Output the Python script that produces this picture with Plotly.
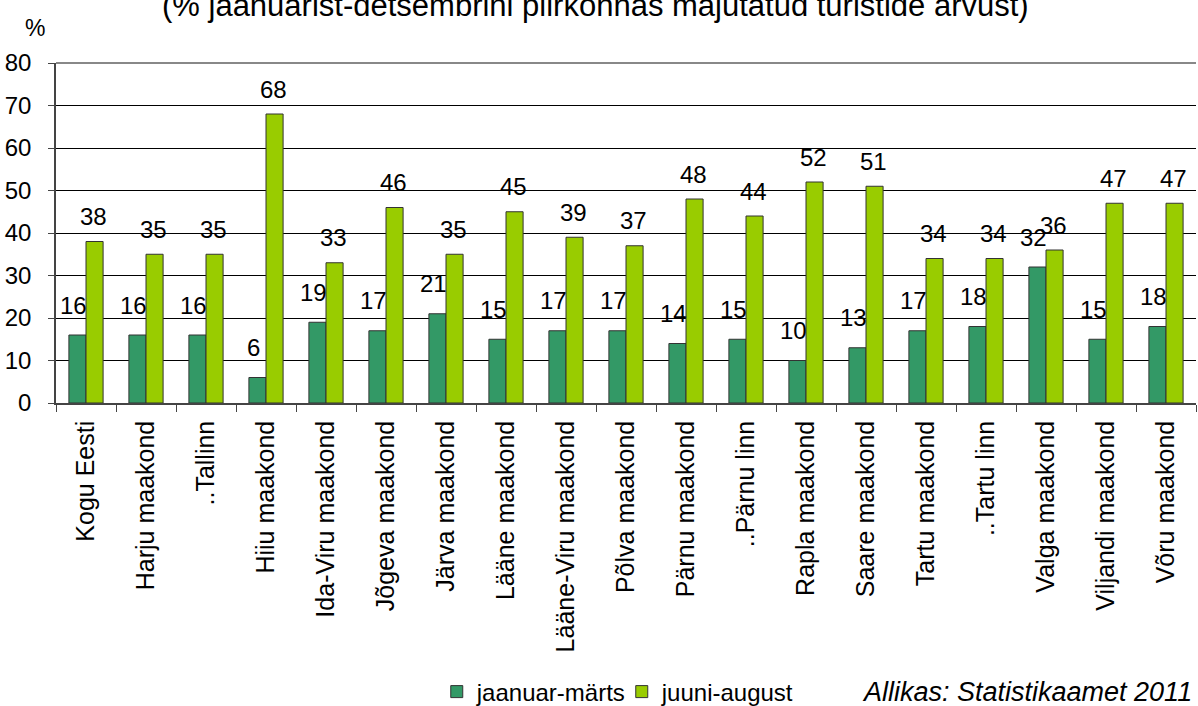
import plotly.graph_objects as go

categories = ["Kogu Eesti", "Harju maakond", "..Tallinn", "Hiiu maakond", "Ida-Viru maakond",
              "Jõgeva maakond", "Järva maakond", "Lääne maakond", "Lääne-Viru maakond",
              "Põlva maakond", "Pärnu maakond", "..Pärnu linn", "Rapla maakond", "Saare maakond",
              "Tartu maakond", "..Tartu linn", "Valga maakond", "Viljandi maakond", "Võru maakond"]
jaanuar_marts = [16, 16, 16, 6, 19, 17, 21, 15, 17, 17, 14, 15, 10, 13, 17, 18, 32, 15, 18]
juuni_august = [38, 35, 35, 68, 33, 46, 35, 45, 39, 37, 48, 44, 52, 51, 34, 34, 36, 47, 47]
series_names = ["jaanuar-märts", "juuni-august"]
y_ticks = [0, 10, 20, 30, 40, 50, 60, 70, 80]

FONT = "Liberation Sans, Arial, sans-serif"
DARK = "#339966"
LIGHT = "#99CC00"

fig = go.Figure()
fig.add_trace(go.Bar(x=categories, y=jaanuar_marts, name=series_names[0],
                     marker=dict(color=DARK, line=dict(color="#333333", width=1))))
fig.add_trace(go.Bar(x=categories, y=juuni_august, name=series_names[1],
                     marker=dict(color=LIGHT, line=dict(color="#333333", width=1))))

annotations = []
for c, v in zip(categories, jaanuar_marts):
    annotations.append(dict(x=c, y=v, xref="x", yref="y", text=str(v), showarrow=False,
                            yanchor="middle", yshift=30, xshift=-13,
                            font=dict(family=FONT, size=24, color="#000")))
for c, v in zip(categories, juuni_august):
    annotations.append(dict(x=c, y=v, xref="x", yref="y", text=str(v), showarrow=False,
                            yanchor="middle", yshift=25, xshift=7,
                            font=dict(family=FONT, size=24, color="#000")))
annotations.append(dict(x=0.473, y=1, xref="paper", yref="paper", xanchor="center", yanchor="bottom",
                        yshift=38, showarrow=False,
                        text="(% jaanuarist-detsembrini piirkonnas majutatud turistide arvust)",
                        font=dict(family=FONT, size=31, color="#000")))
annotations.append(dict(x=0, y=1, xref="paper", yref="paper", xanchor="center", yanchor="middle",
                        xshift=-21, yshift=35, showarrow=False, text="%",
                        font=dict(family=FONT, size=23, color="#000")))
annotations.append(dict(x=1, y=0, xref="paper", yref="paper", xanchor="right", yanchor="middle",
                        xshift=-2, yshift=-289, showarrow=False,
                        text="<i>Allikas: Statistikaamet 2011</i>",
                        font=dict(family=FONT, size=27, color="#000")))

fig.update_layout(
    width=1198, height=706,
    margin=dict(l=56, r=2, t=63, b=303, autoexpand=False),
    paper_bgcolor="white", plot_bgcolor="white",
    barmode="group", bargap=0.43, bargroupgap=0,
    font=dict(family=FONT, size=24, color="#000"),
    showlegend=True,
    legend=dict(orientation="h", x=0.334, xanchor="left", y=-0.85, yanchor="middle",
                font=dict(family=FONT, size=24, color="#000"),
                entrywidth=140, entrywidthmode="pixels", itemwidth=30,
                bgcolor="rgba(0,0,0,0)"),
    annotations=annotations,
    shapes=[dict(type="line", xref="paper", yref="paper", x0=0, x1=1, y0=1, y1=1,
                 line=dict(color="#888888", width=2))],
)
fig.update_xaxes(type="category", tickangle=-90, ticks="outside", tickson="boundaries",
                 ticklen=7, tickcolor="#444", showline=True, linecolor="#444", linewidth=1.5,
                 showgrid=False, automargin=False, ticklabelstandoff=6,
                 tickfont=dict(family=FONT, size=25, color="#000"))
fig.update_yaxes(range=[0, 80], tickvals=y_ticks, ticks="outside", ticklen=6, tickcolor="#444",
                 showline=True, linecolor="#444", linewidth=1.5, showgrid=True,
                 gridcolor="#000000", gridwidth=1, zeroline=False, automargin=False,
                 ticklabelstandoff=12,
                 tickfont=dict(family=FONT, size=24, color="#000"))

fig.write_html("out.html", config={"displayModeBar": False},
               post_script="document.body.style.margin='0px';")
